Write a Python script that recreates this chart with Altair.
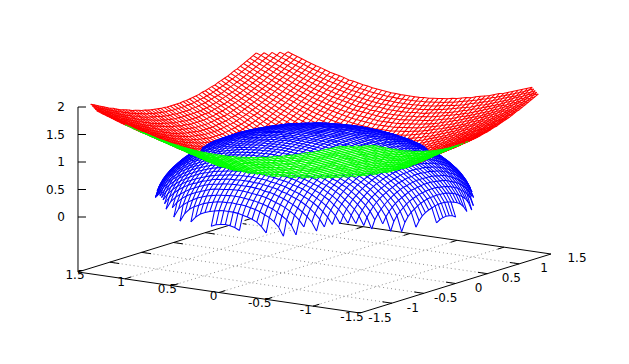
import numpy as np
import pandas as pd
import altair as alt

alt.data_transformers.disable_max_rows()

# Height tables, in hundredths of a z unit, read for one octant of each (symmetric) surface.
# Row = larger |grid index|, column = smaller |grid index|; grid step is 0.05.
BOWL_Z = [
[0],[5,7],[10,11,14],[15,16,18,21],[20,21,22,25,28],[25,25,27,29,32,35],[30,30,32,34,36,39,42],
[35,35,36,38,40,43,46,49],[40,40,41,43,45,47,50,53,57],[45,45,46,47,49,51,54,57,60,64],
[50,50,51,52,54,56,58,61,64,67,71],[55,55,56,57,59,60,63,65,68,71,74,78],
[60,60,61,62,63,65,67,69,72,75,78,81,85],[65,65,66,67,68,70,72,74,76,79,82,85,88,92],
[70,70,71,72,73,74,76,78,81,83,86,89,92,96,99],[75,75,76,76,78,79,81,83,85,87,90,93,96,99,103,106],
[80,80,81,81,82,84,85,87,89,92,94,97,100,103,106,110,113],
[85,85,86,86,87,89,90,92,94,96,99,101,104,107,110,113,117,120],
[90,90,91,91,92,93,95,97,98,101,103,105,108,111,114,117,120,124,127],
[95,95,96,96,97,98,100,101,103,105,107,110,112,115,118,121,124,127,131,134],
[100,100,101,101,102,103,104,106,108,110,112,114,117,119,122,125,128,131,135,138,141],
[105,105,105,106,107,108,109,111,112,114,116,119,121,123,126,129,132,135,138,142,145,148],
[110,110,110,111,112,113,114,115,117,119,121,123,125,128,130,133,136,139,142,145,149,152,156],
[115,115,115,116,117,118,119,120,122,123,125,127,130,132,135,137,140,143,146,149,152,156,159,163],
[120,120,120,121,122,123,124,125,126,128,130,132,134,136,139,142,144,147,150,153,156,159,163,166,170],
[125,125,125,126,127,127,129,130,131,133,135,137,139,141,143,146,148,151,154,157,160,163,167,170,173,177],
[130,130,130,131,132,132,133,135,136,138,139,141,143,145,148,150,153,155,158,161,164,167,170,174,177,180,184],
[135,135,135,136,136,137,138,139,141,142,144,146,148,150,152,154,157,160,162,165,168,171,174,177,181,184,187,191],
[140,140,140,141,141,142,143,144,146,147,149,150,152,154,157,159,161,164,166,169,172,175,178,181,184,188,191,194,198],
[145,145,145,146,146,147,148,149,150,152,153,155,157,159,161,163,166,168,171,173,176,179,182,185,188,191,195,198],
[150,150,150,151,151,152,153,154,155,157,158,160,162,163,166,168,170,172,175,178,180,183,186,189,192,195,198],
]
DOME_Z = [
[141],[141,141],[141,141,141],[141,141,140,140],[140,140,140,139,139],[139,139,139,138,138,137],
[138,138,138,137,137,136,135],[137,137,137,136,136,135,134,132],[136,136,135,135,134,133,132,131,130],
[134,134,134,133,133,132,131,129,128,126],[132,132,132,131,131,130,129,128,126,124,122],
[130,130,130,129,129,128,127,126,124,122,120,118],[128,128,128,127,126,126,124,123,122,120,118,116,113],
[126,126,125,125,124,123,122,121,119,117,115,113,110,107],[123,123,122,122,121,120,119,118,116,114,112,110,107,104,101],
[120,120,119,119,118,117,116,115,113,111,109,107,104,101,97,94],
[117,117,116,116,115,114,113,111,110,108,105,103,100,97,93,89,85],
[113,113,113,112,111,110,109,107,106,104,101,99,96,92,89,85,80,75],
[109,109,109,108,107,106,105,103,101,99,97,94,91,88,84,79,74,68,62],
[105,105,104,104,103,102,100,99,97,95,92,89,86,82,78,73,68,61,54,44],
[100,100,100,99,98,97,95,94,92,89,87,84,80,76,71,66,60,53,44,31],
[95,95,94,94,93,91,90,88,86,83,80,77,73,69,64,58,51,42,30],
[89,89,88,88,87,85,84,82,79,77,73,70,66,61,55,48,39,26],
[82,82,82,81,80,78,77,75,72,69,65,61,56,50,43,34,19],
[75,75,74,73,72,71,69,66,63,60,56,51,45,37,26],
[66,66,65,64,63,61,59,56,53,48,43,37,28,12],
[56,55,55,54,52,50,47,43,39,33,24,9],
[42,42,41,39,37,34,30,23,13],
[20,19,17,13],
]

TICKS = [-1.0, -0.5, 0.0, 0.5, 1.0]
X_LABELS = ["1.5", "1", "0.5", "0", "-0.5", "-1", "-1.5"]
Y_LABELS = ["-1.5", "-1", "-0.5", "0", "0.5", "1", "1.5"]
Z_LABELS = ["2", "1.5", "1", "0.5", "0"]
Z_VALUES = [2.0, 1.5, 1.0, 0.5, 0.0]

N, STEP = 30, 0.05
EX, EY, EZ, O = (-94.0, -13.67), (63.67, -19.67), (0.0, -55.0), (314.5, 208.0)
SS, W, H, EPS = 2, 629, 364, 0.02
RED, GREEN, BLUE = "#ff0000", "#00ff00", "#0000ff"


def proj(x, y, z):
    return (O[0] + EX[0] * x + EY[0] * y + EZ[0] * z, O[1] + EX[1] * x + EY[1] * y + EZ[1] * z, z)


def expand(rows):
    z = np.full((2 * N + 1, 2 * N + 1), np.nan)
    for a in range(-N, N + 1):
        for b in range(-N, N + 1):
            hi, lo = max(abs(a), abs(b)), min(abs(a), abs(b))
            if hi < len(rows) and lo < len(rows[hi]):
                z[a + N, b + N] = rows[hi][lo] / 100.0
    return z


ZB = expand(BOWL_Z)
ZD = expand(DOME_Z)
zbuf = np.full((H * SS, W * SS), -np.inf)


def node(Z, a, b):
    v = Z[a, b]
    if np.isnan(v):
        return None
    return proj((a - N) * STEP, (b - N) * STEP, v)


def tri(p, q, r):
    x0, x1 = min(p[0], q[0], r[0]), max(p[0], q[0], r[0])
    y0, y1 = min(p[1], q[1], r[1]), max(p[1], q[1], r[1])
    ix0, ix1 = max(int(x0 * SS) - 1, 0), min(int(x1 * SS) + 2, W * SS)
    iy0, iy1 = max(int(y0 * SS) - 1, 0), min(int(y1 * SS) + 2, H * SS)
    if ix0 >= ix1 or iy0 >= iy1:
        return
    d = (q[0] - p[0]) * (r[1] - p[1]) - (r[0] - p[0]) * (q[1] - p[1])
    if abs(d) < 1e-9:
        return
    gx, gy = np.meshgrid((np.arange(ix0, ix1) + 0.5) / SS, (np.arange(iy0, iy1) + 0.5) / SS)
    u = ((gx - p[0]) * (r[1] - p[1]) - (r[0] - p[0]) * (gy - p[1])) / d
    v = ((q[0] - p[0]) * (gy - p[1]) - (gx - p[0]) * (q[1] - p[1])) / d
    m = (u >= 0) & (v >= 0) & (u + v <= 1)
    zz = p[2] + u * (q[2] - p[2]) + v * (r[2] - p[2])
    sub = zbuf[iy0:iy1, ix0:ix1]
    sub[m] = np.maximum(sub[m], zz[m])


FLAT = EX[0] * EY[1] - EX[1] * EY[0]


def rasterize(Z):
    sides = {}
    for a in range(2 * N):
        for b in range(2 * N):
            c = [node(Z, a, b), node(Z, a + 1, b), node(Z, a + 1, b + 1), node(Z, a, b + 1)]
            good = [p for p in c if p is not None]
            if len(good) < 3:
                continue
            tris = [(c[0], c[1], c[2]), (c[2], c[3], c[0])] if len(good) == 4 else [tuple(good)]
            for t in tris:
                tri(*t)
            p, q, r = good[0], good[1], good[2]
            area = (q[0] - p[0]) * (r[1] - p[1]) - (r[0] - p[0]) * (q[1] - p[1])
            sides[(a, b)] = area * FLAT > 0
    return sides


side_b = rasterize(ZB)
rasterize(ZD)

stack = [np.roll(np.roll(zbuf, dy, 0), dx, 1) for dy in (-1, 0, 1) for dx in (-1, 0, 1)]
zmin = np.min(stack, axis=0)
del stack


def spans(p, q):
    length = max(abs(q[0] - p[0]), abs(q[1] - p[1]))
    n = max(int(length * SS) + 1, 2)
    t = np.linspace(0, 1, n + 1)
    sx, sy = p[0] + t * (q[0] - p[0]), p[1] + t * (q[1] - p[1])
    sz = p[2] + t * (q[2] - p[2])
    ix = np.clip((sx * SS).astype(int), 0, W * SS - 1)
    iy = np.clip((sy * SS).astype(int), 0, H * SS - 1)
    vis = sz >= zmin[iy, ix] - EPS
    out, k = [], 0
    while k <= n:
        if vis[k]:
            e = k
            while e < n and vis[e + 1]:
                e += 1
            if e > k:
                out.append((t[k], t[e]))
            k = e + 1
        else:
            k += 1
    return out


class Runs:
    def __init__(self):
        self.rows, self.run, self.seq, self.open = [], 0, 0, None

    def add(self, p, q, colour):
        found = spans(p, q)
        for t0, t1 in found:
            a = (p[0] + t0 * (q[0] - p[0]), p[1] + t0 * (q[1] - p[1]))
            b = (p[0] + t1 * (q[0] - p[0]), p[1] + t1 * (q[1] - p[1]))
            if not (self.open == colour and t0 == 0):
                self.run += 1
                self._pt(a, colour)
            self._pt(b, colour)
            self.open = colour if t1 == 1 else None
        if not found:
            self.open = None

    def _pt(self, a, colour):
        self.seq += 1
        self.rows.append((a[0], a[1], self.run, self.seq, colour))

    def brk(self):
        self.open = None

    def frame(self):
        return pd.DataFrame(self.rows, columns=["px", "py", "run", "seq", "c"])


def bowl_colour(keys):
    vals = [side_b[k] for k in keys if k in side_b]
    if not vals or any(vals):
        return RED
    return GREEN


mesh = Runs()
M = 2 * N + 1
for a in range(M):
    mesh.brk()
    for b in range(M - 1):
        p, q = node(ZB, a, b), node(ZB, a, b + 1)
        if p is None or q is None:
            mesh.brk()
            continue
        mesh.add(p, q, bowl_colour([(a - 1, b), (a, b)]))
for b in range(M):
    mesh.brk()
    for a in range(M - 1):
        p, q = node(ZB, a, b), node(ZB, a + 1, b)
        if p is None or q is None:
            mesh.brk()
            continue
        mesh.add(p, q, bowl_colour([(a, b - 1), (a, b)]))
for a in range(M):
    mesh.brk()
    for b in range(M - 1):
        p, q = node(ZD, a, b), node(ZD, a, b + 1)
        if p is None or q is None:
            mesh.brk()
            continue
        mesh.add(p, q, BLUE)
for b in range(M):
    mesh.brk()
    for a in range(M - 1):
        p, q = node(ZD, a, b), node(ZD, a + 1, b)
        if p is None or q is None:
            mesh.brk()
            continue
        mesh.add(p, q, BLUE)

BASE = -1.0
grid = Runs()
for v in TICKS:
    grid.brk()
    grid.add(proj(v, -1.5, BASE), proj(v, 1.5, BASE), "#909090")
    grid.brk()
    grid.add(proj(-1.5, v, BASE), proj(1.5, v, BASE), "#909090")

frame = Runs()
corners = [(1.5, -1.5), (-1.5, -1.5), (-1.5, 1.5), (1.5, 1.5), (1.5, -1.5)]
for (x0, y0), (x1, y1) in zip(corners, corners[1:]):
    frame.brk()
    frame.add(proj(x0, y0, BASE), proj(x1, y1, BASE), "#000000")
for v in TICKS:
    for (x0, y0, x1, y1) in [(v, -1.5, v, -1.4), (v, 1.5, v, 1.4), (-1.5, v, -1.4, v), (1.5, v, 1.4, v)]:
        frame.brk()
        frame.add(proj(x0, y0, BASE), proj(x1, y1, BASE), "#000000")

AXIS_X = O[0] + EX[0] * 1.5 - EY[0] * 1.5
axis_rows = [(AXIS_X, 272.0, 1, 1), (AXIS_X, 107.0, 1, 2)]
for k, z in enumerate(Z_VALUES):
    yy = 217.0 - 55.0 * z
    axis_rows += [(AXIS_X, yy, k + 2, 1), (AXIS_X + 8, yy, k + 2, 2)]
axis_df = pd.DataFrame(axis_rows, columns=["px", "py", "run", "seq"])

labels = []
for k, t in enumerate(X_LABELS):
    labels.append((75 + k * 46.17, 275 + k * 7.0, t, "center"))
for k, t in enumerate(Y_LABELS):
    labels.append((380 + k * 32.83, 318 - k * 10.0, t, "center"))
for z, t in zip(Z_VALUES, Z_LABELS):
    labels.append((65.0, 217.0 - 55.0 * z, t, "right"))
label_df = pd.DataFrame(labels, columns=["px", "py", "t", "a"])

XS = alt.Scale(domain=[8, 621], range=[0, 613])
YS = alt.Scale(domain=[356, 8], range=[348, 0])
X = alt.X("px:Q", scale=XS, axis=None)
Y = alt.Y("py:Q", scale=YS, axis=None)

dotted = alt.Chart(grid.frame()).mark_line(strokeWidth=1, strokeDash=[1, 3], color="#909090").encode(
    x=X, y=Y, detail="run:N", order="seq:Q")
border = alt.Chart(frame.frame()).mark_line(strokeWidth=1, color="#000000").encode(
    x=X, y=Y, detail="run:N", order="seq:Q")
zaxis = alt.Chart(axis_df).mark_line(strokeWidth=1, color="#000000").encode(
    x=X, y=Y, detail="run:N", order="seq:Q")
wire_df = mesh.frame()


def wires(colour):
    return alt.Chart(wire_df[wire_df.c == colour]).mark_line(strokeWidth=1.05, color=colour).encode(
        x=X, y=Y, detail="run:N", order="seq:Q")


centre = alt.Chart(label_df[label_df.a == "center"]).mark_text(
    font="DejaVu Sans", fontSize=12, color="#000000", align="center", baseline="middle").encode(x=X, y=Y, text="t:N")
right = alt.Chart(label_df[label_df.a == "right"]).mark_text(
    font="DejaVu Sans", fontSize=12, color="#000000", align="right", baseline="middle").encode(x=X, y=Y, text="t:N")

chart = alt.layer(dotted, border, zaxis, wires(RED), wires(BLUE), wires(GREEN), centre, right).properties(
    width=613, height=348, padding=0, autosize=alt.AutoSizeParams(type="none"), background="white"
).configure_view(stroke=None)

chart.save("out.html", embed_options={"renderer": "svg", "actions": False})
